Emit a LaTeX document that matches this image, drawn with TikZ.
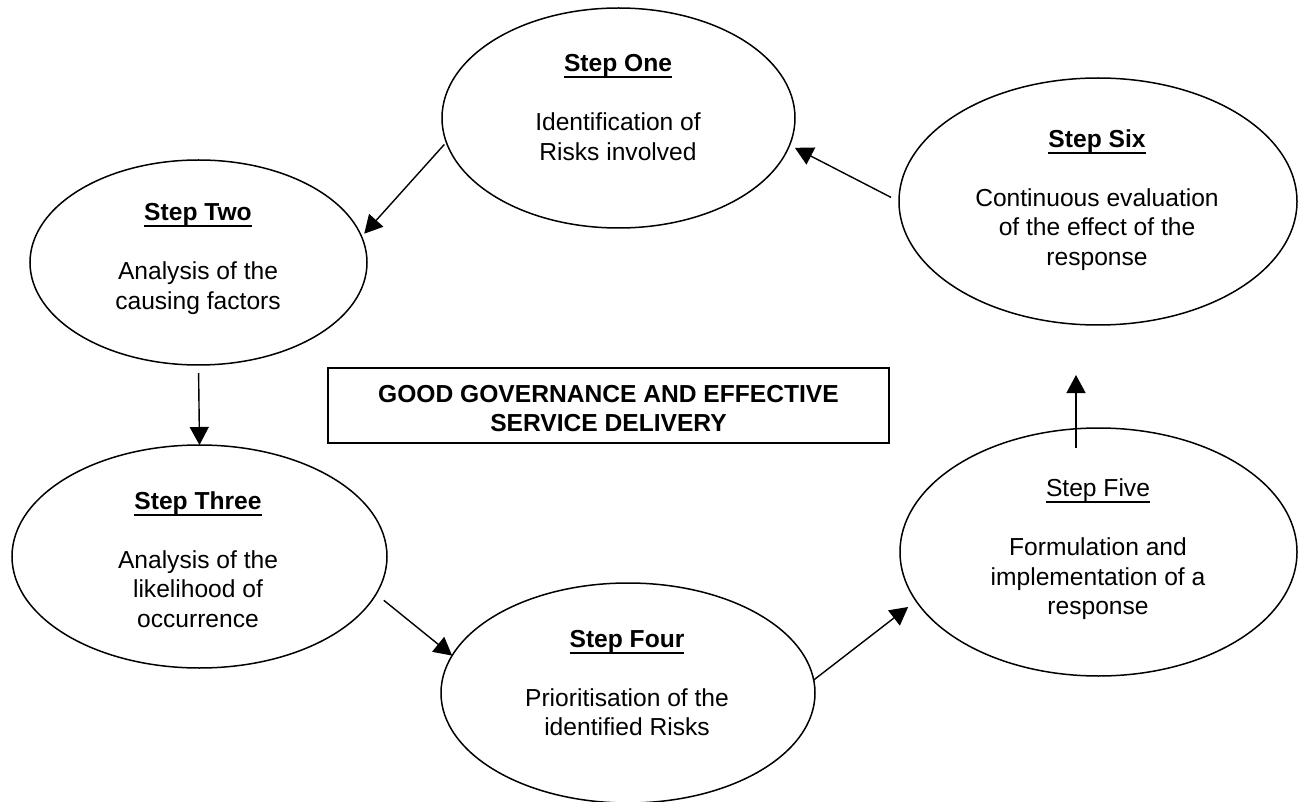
\documentclass[tikz,border=0pt]{standalone}
\usepackage{fontspec}
\setmainfont{Liberation Sans}
\usetikzlibrary{shapes.geometric,arrows.meta}
\newcommand{\stepul}[1]{\setbox0\hbox{#1}\rlap{\rule[-6.5pt]{\wd0}{2.2pt}}\box0}
\begin{document}
\begin{tikzpicture}[x=1pt,y=-1pt,
  stepell/.style={ellipse, draw, line width=1.5pt, inner sep=0pt, outer sep=0pt},
  steptxt/.style={anchor=base, inner sep=0pt, outer sep=0pt, font=\fontsize{24.6}{29.5}\selectfont},
  arr/.style={-{Triangle[length=18pt,width=19pt]}, line width=1.4pt},
]
\fill[white] (0,0) rectangle (1307,802);
\useasboundingbox (0,0) rectangle (1307,802);

% ellipses
\node[stepell, minimum width=353pt, minimum height=220pt] (one) at (618.5,118) {};
\node[stepell, minimum width=337pt, minimum height=205pt] (two) at (198.5,262.5) {};
\node[stepell, minimum width=375pt, minimum height=223pt] (three) at (199.5,556.5) {};
\node[stepell, minimum width=374pt, minimum height=220pt] (four) at (628,693) {};
\node[stepell, minimum width=397pt, minimum height=248pt] (five) at (1098.5,552) {};
\node[stepell, minimum width=398pt, minimum height=247pt] (six) at (1098,201.5) {};

% texts
\node[steptxt] (t1) at (618,72) {\begin{tabular}[t]{@{}c@{}}\stepul{\textbf{Step One}}\\ \\ Identification of\\ Risks involved\end{tabular}};
\node[steptxt] (t2) at (198,221) {\begin{tabular}[t]{@{}c@{}}\stepul{\textbf{Step Two}}\\ \\ Analysis of the\\ causing factors\end{tabular}};
\node[steptxt] (t3) at (198,509.3) {\begin{tabular}[t]{@{}c@{}}\stepul{\textbf{Step Three}}\\ \\ Analysis of the\\ likelihood of\\ occurrence\end{tabular}};
\node[steptxt] (t4) at (627,647.3) {\begin{tabular}[t]{@{}c@{}}\stepul{\textbf{Step Four}}\\ \\ Prioritisation of the\\ identified Risks\end{tabular}};
\node[steptxt] (t5) at (1098,496.5) {\begin{tabular}[t]{@{}c@{}}\stepul{Step Five}\\ \\ Formulation and\\ implementation of a\\ response\end{tabular}};
\node[steptxt] (t6) at (1097,147.3) {\begin{tabular}[t]{@{}c@{}}\stepul{\textbf{Step Six}}\\ \\ Continuous evaluation\\ of the effect of the\\ response\end{tabular}};

% central box
\node[draw, line width=1.5pt, minimum width=561pt, minimum height=75pt, inner sep=0pt, outer sep=0pt] (gg) at (608.5,405.5) {};
\node[steptxt, font=\fontsize{24.6}{29}\selectfont\bfseries] (ggtext) at (608.5,402.5) {\begin{tabular}[t]{@{}c@{}}GOOD GOVERNANCE AND EFFECTIVE\\ SERVICE DELIVERY\end{tabular}};

% arrows
\draw[arr, shorten <=3pt, shorten >=4pt] (one.188) -- (two.9);
\draw[arr, shorten <=8pt] (two.south) -- (three.north);
\draw[arr, shorten <=10pt] (three.348) -- (four.168);
\draw[arr, shorten >=10pt] (four.4.5) -- (five.195);
\draw[arr] ([xshift=-22.5pt,yshift=-20pt]five.north) -- ([xshift=-22pt,yshift=-50pt]six.south);
\draw[arr, shorten <=9pt, shorten >=6pt] (six.180) -- (one.351.7);
\end{tikzpicture}
\end{document}
